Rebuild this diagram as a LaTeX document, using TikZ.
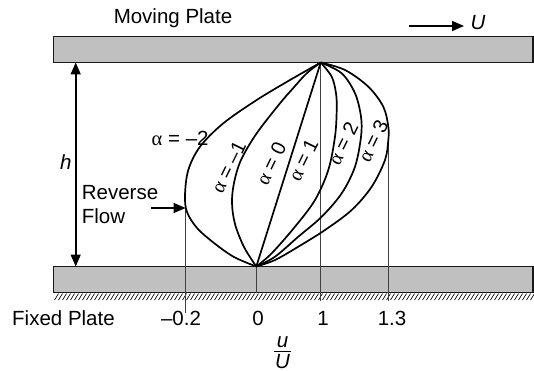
\documentclass[tikz,border=0pt]{standalone}
\usepackage{fontspec}
\setmainfont{Liberation Sans}
\newfontfamily\grk{Liberation Serif}
\usetikzlibrary{arrows.meta}
\definecolor{plategray}{HTML}{C0C0C0}
\begin{document}
\begin{tikzpicture}[x=1pt,y=-1pt,
  lbl/.style={font=\fontsize{20.5}{24}\selectfont, inner sep=0pt},
  ital/.style={font=\fontsize{20.5}{24}\selectfont\itshape, inner sep=0pt},
  alab/.style={font=\fontsize{20}{24}\selectfont, inner sep=0pt, rotate=64},
  plate/.style={fill=plategray, draw=black!90, line width=1.8pt},
  prof/.style={line width=1.7pt, line join=round},
  guide/.style={line width=1.1pt, draw=black!75},
  tip/.tip={Triangle[length=12pt,width=10pt]},
  arr/.style={-tip, line width=1.6pt}]
\useasboundingbox (0,0) rectangle (534,371);

% plates
\draw[plate] (53.5,36.5) rectangle (533,62.5);
\draw[plate] (53.5,266.5) rectangle (533,292.5);
\foreach \i in {0,...,119}
  \draw[line width=0.65pt] ({58.5+4*\i},293.6) -- ({54.5+4*\i},300);

% key points
\coordinate (T) at (320.7,62.5);
\coordinate (B) at (256.3,266.5);
\coordinate (Bp) at (256.3,292.5);
\coordinate (T1) at (320.7,300.5);
\coordinate (P3) at (388.7,130);
\coordinate (P3b) at (388.7,300.5);
\coordinate (rfP) at (185.5,208);
\coordinate (rfB) at (185.5,313);
\coordinate (rfS) at (151,208);
\coordinate (hT) at (75.7,62.5);
\coordinate (hB) at (75.7,266.5);
\coordinate (uS) at (408.7,26);
\coordinate (uE) at (464,26);
\coordinate (fL) at (274,351.3);
\coordinate (fR) at (291,351.3);

% guide lines
\draw[guide] (rfP) -- (rfB);
\draw[guide] (B) -- (Bp);
\draw[guide] (T) -- (T1);
\draw[guide] (P3) -- (P3b);

% profiles
\draw[prof] plot[smooth, tension=0.55] coordinates {(T) (290,80) (256.7,100) (223.3,123.3) (200,146.7) (188.3,170) (185,195) (187,212) (197,228) (214,243) (234,257) (B)};
\draw[prof] plot[smooth, tension=0.55] coordinates {(T) (306.7,73.3) (293.3,88) (280,103.3) (256.7,133.3) (241,160) (234,183) (232,203) (235,224) (244,247) (B)};
\draw[prof] (T) -- (B);
\draw[prof] plot[smooth, tension=0.55] coordinates {(T) (331.7,76.7) (336,93.3) (336.7,110) (335,136.7) (328.3,170) (315,200) (295,226.7) (271.7,253.3) (B)};
\draw[prof] plot[smooth, tension=0.55] coordinates {(T) (341.7,73.3) (355,93.3) (361,116.7) (361,136.7) (355,166.7) (341.7,193.3) (321.7,216.7) (298.3,236.7) (275,256.7) (B)};
\draw[prof] plot[smooth, tension=0.55] coordinates {(T) (345,70) (368.3,86.7) (383.3,106.7) (388.3,126.7) (388.3,140) (385,160) (371.7,186.7) (351.7,210) (325,230) (298.3,246.7) (275,260) (B)};

% arrows
\draw[arr, tip-tip] (hT) -- (hB);
\draw[arr] (rfS) -- (rfP);
\draw[arr] (uS) -- (uE);

% texts
\node[lbl, anchor=base] (mp) at (173,23.2) {Moving Plate};
\node[ital, anchor=base] (U) at (478,29.3) {U};
\node[ital, anchor=base] (h) at (65.7,169.3) {h};
\node[lbl, anchor=base west] (rv) at (81.7,199.3) {Reverse};
\node[lbl, anchor=base west] (fl) at (81.7,223.3) {Flow};
\node[lbl, anchor=base west] (am2) at (151.5,145.5) {{\grk α} = –2};
\node[alab] (am1) at (228.5,167) {{\grk α} = –1};
\node[alab] (a0) at (271,163.5) {{\grk α} = 0};
\node[alab] (a1) at (303.3,160) {{\grk α} = 1};
\node[alab] (a2) at (343,143.5) {{\grk α} = 2};
\node[alab] (a3) at (373,141) {{\grk α} = 3};
\node[lbl, anchor=base west] (fp) at (12,325) {Fixed Plate};
\node[lbl, anchor=base] (nm) at (181,325) {–0.2};
\node[lbl, anchor=base] (n0) at (258,325) {0};
\node[lbl, anchor=base] (n1) at (323,325) {1};
\node[lbl, anchor=base] (n13) at (392,325) {1.3};
\node[ital, anchor=base] (fu) at (282.5,347.5) {u};
\node[ital, anchor=base] (fU) at (282.5,368.5) {U};
\draw[line width=1.1pt] (fL) -- (fR);
\end{tikzpicture}
\end{document}
